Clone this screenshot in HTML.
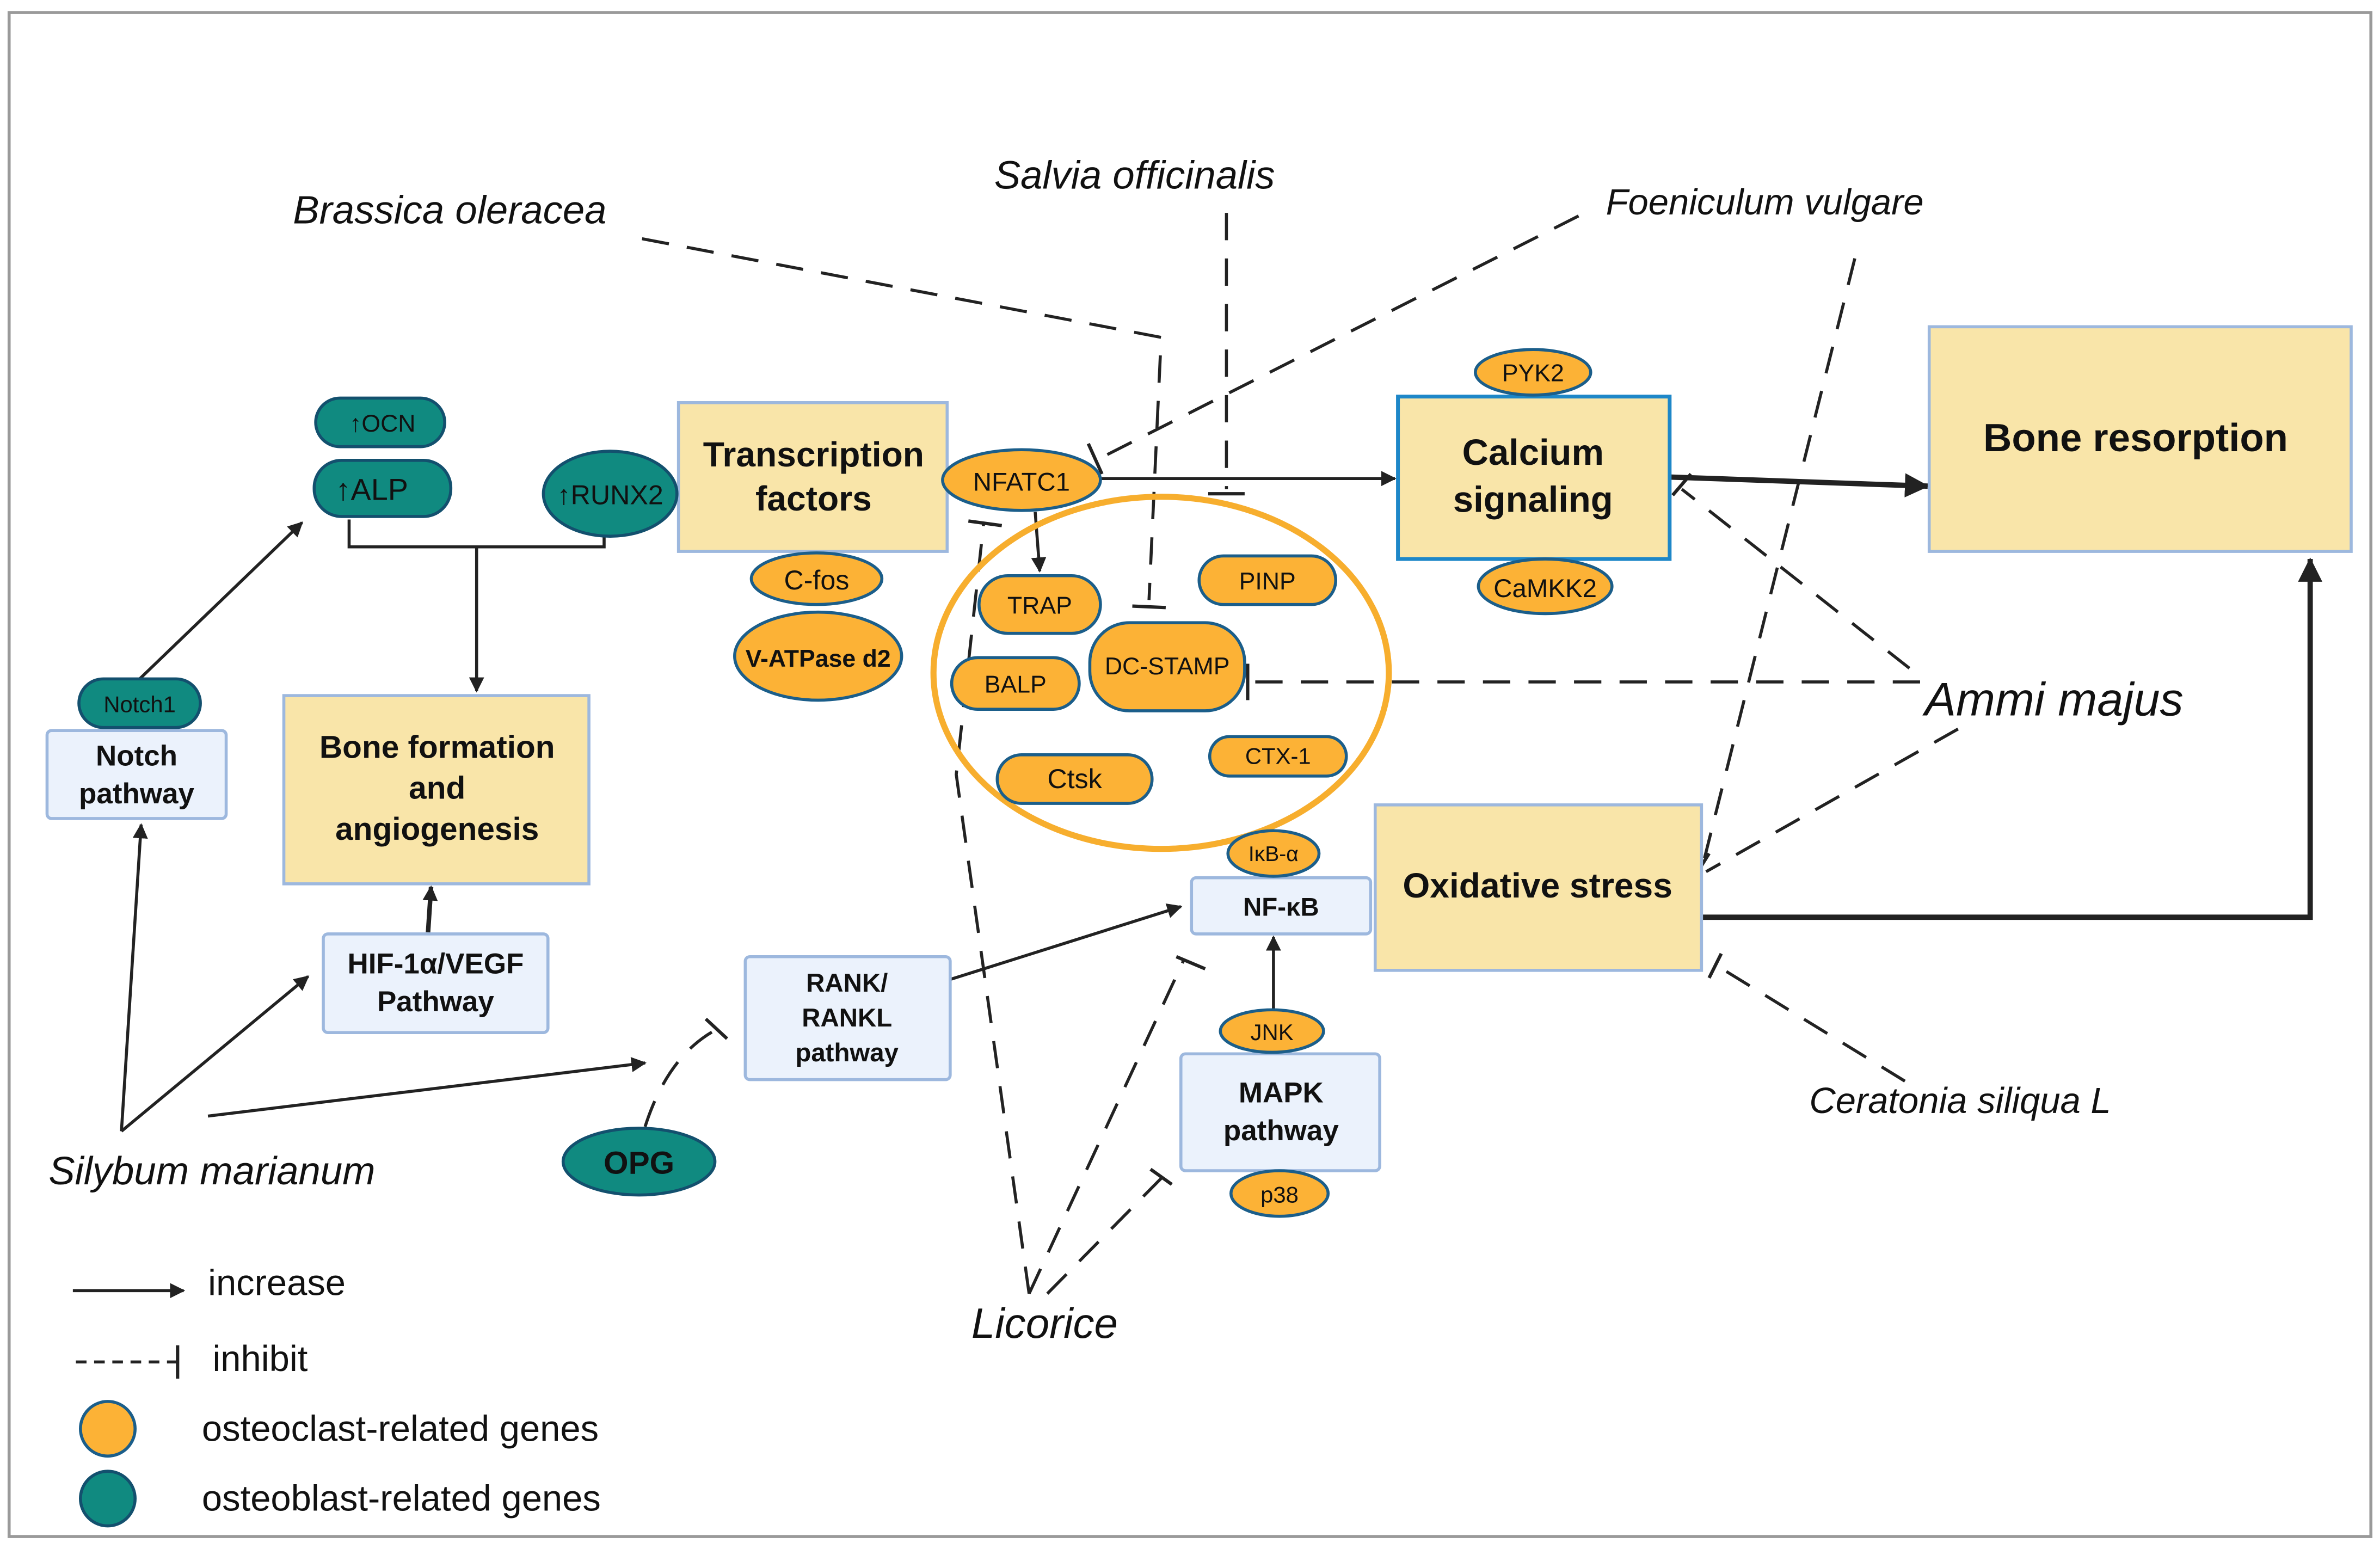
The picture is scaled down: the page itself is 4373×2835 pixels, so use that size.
<!DOCTYPE html>
<html><head><meta charset="utf-8"><style>
html,body{margin:0;padding:0;background:#fff;}
svg{display:block;}
text{font-family:"Liberation Sans",Arial,sans-serif;}
</style></head><body>
<svg width="4373" height="2835" viewBox="0 0 1568 1016" xmlns="http://www.w3.org/2000/svg">
<defs>
<marker id="ar" markerWidth="10" markerHeight="10" refX="9" refY="5" orient="auto" markerUnits="userSpaceOnUse" viewBox="0 0 10 10"><path d="M0,0 L10,5 L0,10 z" fill="#222"/></marker>
<marker id="arb" markerWidth="16" markerHeight="16" refX="15" refY="8" orient="auto" markerUnits="userSpaceOnUse" viewBox="0 0 16 16"><path d="M0,0 L16,8 L0,16 z" fill="#222"/></marker>
</defs>
<rect x="6" y="8" width="1556" height="1004" fill="#fff" stroke="#9a9a9a" stroke-width="2"/>

<g stroke="#222" stroke-width="2" fill="none">
<line x1="92" y1="447" x2="199" y2="344" marker-end="url(#ar)"/>
<polyline points="230,342 230,360 398,360 398,346"/>
<line x1="314" y1="360" x2="314" y2="455" marker-end="url(#ar)"/>
<line x1="80" y1="745" x2="93" y2="543" marker-end="url(#ar)"/>
<line x1="80" y1="745" x2="203" y2="643" marker-end="url(#ar)"/>
<line x1="137" y1="735" x2="425" y2="700" marker-end="url(#ar)"/>
<line x1="282" y1="614" x2="284" y2="584" stroke-width="3" marker-end="url(#ar)"/>
<line x1="626" y1="645" x2="778" y2="597" marker-end="url(#ar)"/>
<line x1="839" y1="665" x2="839" y2="617" marker-end="url(#ar)"/>
<line x1="725" y1="315" x2="919" y2="315" marker-end="url(#ar)"/>
<line x1="682" y1="337" x2="685" y2="376" marker-end="url(#ar)"/>
<line x1="1100" y1="314" x2="1270" y2="320" stroke-width="3.5" marker-end="url(#arb)"/>
<polyline points="1121,604 1522,604 1522,368" stroke-width="3.5" marker-end="url(#arb)"/>
</g>

<g stroke="#222" stroke-width="2" fill="none" stroke-dasharray="18,12">
<line x1="808" y1="140" x2="808" y2="322"/>
<polyline points="423,157 765,222 757,395"/>
<line x1="1040" y1="142" x2="724" y2="302"/>
<line x1="1222" y1="170" x2="1123" y2="565"/>
<line x1="1258" y1="440" x2="1108" y2="322"/>
<line x1="1290" y1="480" x2="1124" y2="574"/>
<line x1="1265" y1="449" x2="825" y2="449"/>
<line x1="1255" y1="712" x2="1128" y2="634"/>
<polyline points="678,852 630,510 648,345"/>
<line x1="678" y1="852" x2="780" y2="632"/>
<line x1="690" y1="852" x2="768" y2="773"/>
<path d="M425,742 Q440,695 472,678"/>
</g>
<line x1="50" y1="897" x2="116" y2="897" stroke="#222" stroke-width="2" stroke-dasharray="7,5"/>
<g stroke="#222" stroke-width="2.2">
<line x1="796" y1="325" x2="820" y2="325"/>
<line x1="746" y1="399" x2="768" y2="400"/>
<line x1="717" y1="292" x2="726" y2="312"/>
<line x1="822" y1="437" x2="822" y2="461"/>
<line x1="1102" y1="326" x2="1114" y2="312"/>
<line x1="1116" y1="578" x2="1126" y2="562"/>
<line x1="1126" y1="644" x2="1134" y2="628"/>
<line x1="638" y1="343" x2="660" y2="346"/>
<line x1="775" y1="630" x2="794" y2="638"/>
<line x1="758" y1="770" x2="772" y2="780"/>
<line x1="465" y1="671" x2="479" y2="684"/>
<line x1="117" y1="886" x2="117" y2="908"/>
</g>
<line x1="48" y1="850" x2="121" y2="850" stroke="#222" stroke-width="2" marker-end="url(#ar)"/>

<ellipse cx="765" cy="443" rx="150" ry="116" fill="none" stroke="#F7AE2E" stroke-width="4"/>

<g fill="#F9E5A9" stroke="#9DB8DE" stroke-width="2">
<rect x="447" y="265" width="177" height="98"/>
<rect x="187" y="458" width="201" height="124"/>
<rect x="1271" y="215" width="278" height="148"/>
<rect x="906" y="530" width="215" height="109"/>
</g>
<rect x="921" y="261" width="179" height="107" fill="#F9E5A9" stroke="#1E87C8" stroke-width="2.5"/>
<g fill="#EBF2FC" stroke="#9DB8DE" stroke-width="2">
<rect x="31" y="481" width="118" height="58" rx="3"/>
<rect x="213" y="615" width="148" height="65" rx="3"/>
<rect x="491" y="630" width="135" height="81" rx="3"/>
<rect x="785" y="578" width="118" height="37" rx="3"/>
<rect x="778" y="694" width="131" height="77" rx="3"/>
</g>

<g fill="#108A80" stroke="#13506E" stroke-width="2">
<rect x="208" y="262" width="85" height="32" rx="16"/>
<rect x="207" y="303" width="90" height="37" rx="18"/>
<ellipse cx="402" cy="325" rx="44" ry="28"/>
<rect x="52" y="447" width="80" height="32" rx="16"/>
<ellipse cx="421" cy="765" rx="50" ry="22"/>
<ellipse cx="71" cy="987" rx="18" ry="18"/>
</g>
<g fill="#FCB236" stroke="#1B5E8A" stroke-width="2">
<ellipse cx="673" cy="316" rx="52" ry="20"/>
<ellipse cx="538" cy="381" rx="43" ry="17"/>
<ellipse cx="539" cy="432" rx="55" ry="29"/>
<rect x="645" y="379" width="80" height="38" rx="19"/>
<rect x="790" y="366" width="90" height="32" rx="16"/>
<rect x="627" y="433" width="84" height="34" rx="17"/>
<rect x="718" y="410" width="102" height="58" rx="26"/>
<rect x="657" y="497" width="102" height="32" rx="16"/>
<rect x="797" y="485" width="90" height="26" rx="13"/>
<ellipse cx="1010" cy="245" rx="38" ry="15"/>
<ellipse cx="1018" cy="386" rx="44" ry="18"/>
<ellipse cx="839" cy="562" rx="30" ry="15"/>
<ellipse cx="838" cy="679" rx="34" ry="14"/>
<ellipse cx="843" cy="786" rx="32" ry="15"/>
<ellipse cx="71" cy="941" rx="18" ry="18"/>
</g>

<g font-weight="bold" fill="#111" text-anchor="middle">
<text x="536" y="307" font-size="23">Transcription</text>
<text x="536" y="336" font-size="23">factors</text>
<text x="288" y="499" font-size="21">Bone formation</text>
<text x="288" y="526" font-size="21">and</text>
<text x="288" y="553" font-size="21">angiogenesis</text>
<text x="1010" y="306" font-size="24">Calcium</text>
<text x="1010" y="337" font-size="24">signaling</text>
<text x="1407" y="297" font-size="26">Bone resorption</text>
<text x="1013" y="591" font-size="23">Oxidative stress</text>
<text x="90" y="504" font-size="19">Notch</text>
<text x="90" y="529" font-size="19">pathway</text>
<text x="287" y="641" font-size="19">HIF-1α/VEGF</text>
<text x="287" y="666" font-size="19">Pathway</text>
<text x="558" y="653" font-size="17">RANK/</text>
<text x="558" y="676" font-size="17">RANKL</text>
<text x="558" y="699" font-size="17">pathway</text>
<text x="844" y="603" font-size="17">NF-κB</text>
<text x="844" y="726" font-size="19">MAPK</text>
<text x="844" y="751" font-size="19">pathway</text>
<text x="421" y="773" font-size="21">OPG</text>
<text x="539" y="439" font-size="16">V-ATPase d2</text>
</g>
<g fill="#111" text-anchor="middle">
<text x="252" y="284" font-size="16">↑OCN</text>
<text x="245" y="329" font-size="20">↑ALP</text>
<text x="402" y="332" font-size="18">↑RUNX2</text>
<text x="92" y="469" font-size="15">Notch1</text>
<text x="673" y="323" font-size="17">NFATC1</text>
<text x="538" y="388" font-size="18">C-fos</text>
<text x="685" y="404" font-size="16">TRAP</text>
<text x="835" y="388" font-size="16">PINP</text>
<text x="669" y="456" font-size="16">BALP</text>
<text x="769" y="444" font-size="16">DC-STAMP</text>
<text x="708" y="519" font-size="18">Ctsk</text>
<text x="842" y="503" font-size="15">CTX-1</text>
<text x="1010" y="251" font-size="16">PYK2</text>
<text x="1018" y="393" font-size="17">CaMKK2</text>
<text x="839" y="567" font-size="14">IκB-α</text>
<text x="838" y="685" font-size="15">JNK</text>
<text x="843" y="792" font-size="15">p38</text>
</g>
<g font-style="italic" fill="#111">
<text x="193" y="147" font-size="26">Brassica oleracea</text>
<text x="655" y="124" font-size="26">Salvia officinalis</text>
<text x="1058" y="141" font-size="24">Foeniculum vulgare</text>
<text x="1268" y="471" font-size="31">Ammi majus</text>
<text x="1192" y="733" font-size="24">Ceratonia siliqua L</text>
<text x="32" y="780" font-size="26">Silybum marianum</text>
<text x="640" y="881" font-size="28">Licorice</text>
</g>
<g fill="#111" font-size="24">
<text x="137" y="853">increase</text>
<text x="140" y="903">inhibit</text>
<text x="133" y="949">osteoclast-related genes</text>
<text x="133" y="995">osteoblast-related genes</text>
</g>
</svg>
</body></html>
